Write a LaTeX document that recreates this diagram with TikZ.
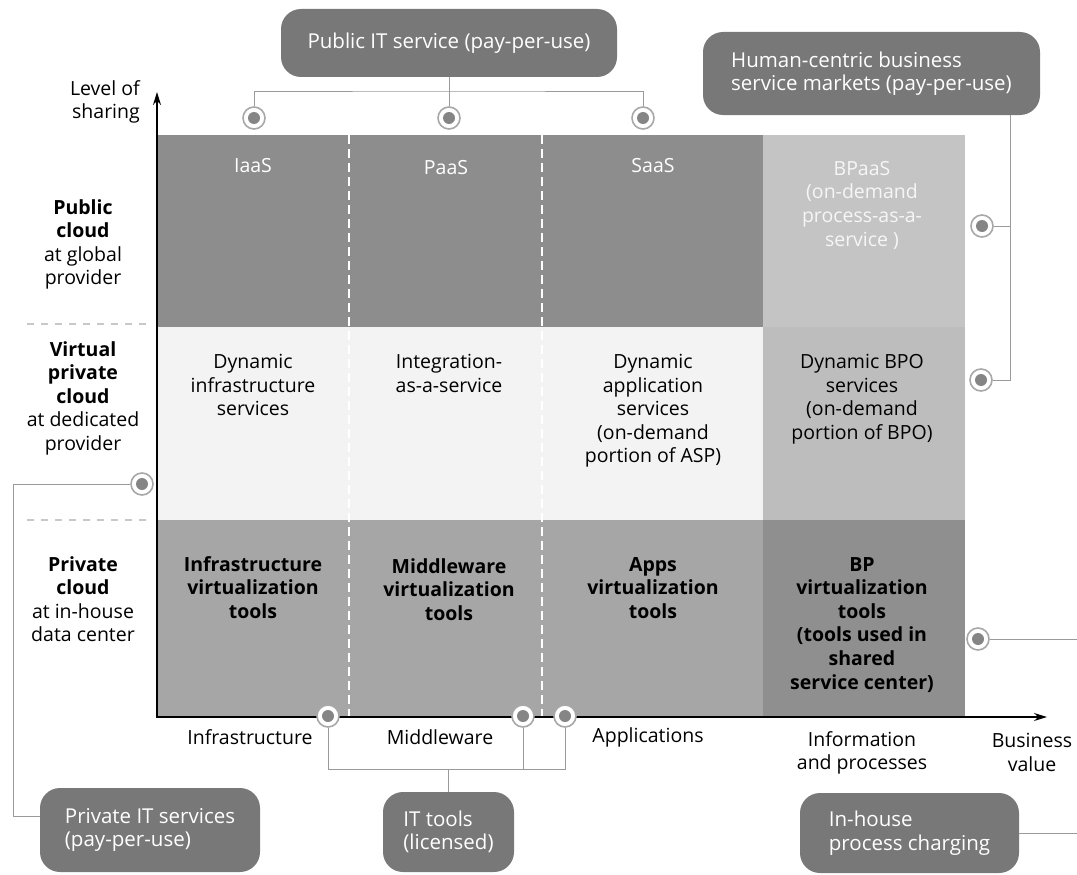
\documentclass[tikz,border=0pt]{standalone}
\usepackage{fontspec}
\setmainfont{Open Sans}
\usetikzlibrary{arrows.meta}

\definecolor{boxgray}{HTML}{787878}
\definecolor{pubcell}{HTML}{8D8D8D}
\definecolor{vpccell}{HTML}{F3F3F3}
\definecolor{privcell}{HTML}{A6A6A6}
\definecolor{bpaascell}{HTML}{C4C4C4}
\definecolor{bpocell}{HTML}{BDBDBD}
\definecolor{bpcell}{HTML}{8F8F8F}
\definecolor{linkgray}{HTML}{9A9A9A}
\definecolor{portring}{HTML}{A8A8A8}
\definecolor{portdot}{HTML}{858585}
\definecolor{rulegray}{HTML}{C8C8C8}

\newcommand{\cellsize}{\fontsize{19.5}{23.6}\selectfont}
\newcommand{\boxsize}{\fontsize{20.5}{23.6}\selectfont}

\begin{document}
\begin{tikzpicture}[x=1pt,y=-1pt,
  celltext/.style={align=center, inner sep=0pt, font=\cellsize, anchor=north},
  boldtext/.style={celltext, font=\cellsize\bfseries},
  axislabel/.style={align=center, inner sep=0pt, font=\cellsize},
  box/.style={rounded corners=20pt, fill=boxgray, text=white, font=\boxsize,
    align=left, inner sep=0pt},
  port/.style={circle, minimum size=22pt, inner sep=0pt, fill=white,
    draw=portring, line width=1.6pt,
    path picture={\fill[portdot] (path picture bounding box.center) circle (6pt);}},
  link/.style={draw=linkgray, line width=0.9pt},
  colrule/.style={draw=white, line width=1.6pt, dash pattern=on 9pt off 5pt},
  rowrule/.style={draw=rulegray, line width=1.2pt, dash pattern=on 7pt off 7pt},
  axis/.style={draw=black, line width=1.5pt, -{Stealth[length=13pt,width=8pt]}}
]
\useasboundingbox (0,0) rectangle (1077,875);

% ---- grid cells ----
\fill[pubcell]   (157,135) rectangle (763,327);
\fill[vpccell]   (157,327) rectangle (763,520);
\fill[privcell]  (157,520) rectangle (763,717);
\fill[bpaascell] (763,135) rectangle (965,327);
\fill[bpocell]   (763,327) rectangle (965,520);
\fill[bpcell]    (763,520) rectangle (965,717);

% column separators
\draw[colrule] (349,135) -- (349,717);
\draw[colrule] (542,135) -- (542,717);

% row separators beside the vertical axis
\draw[rowrule] (27,324) -- (150,324);
\draw[rowrule] (27,520) -- (150,520);

% ---- axes ----
\draw[axis] (157,718) -- (157,92);
\draw[axis] (156,717) -- (1047,717);

% ---- axis titles ----
\node[axislabel, align=right, anchor=north east] (ylab) at (140,80) {Level of\\sharing};
\node[celltext] (rowpub) at (83,199) {\textbf{Public}\\\textbf{cloud}\\at global\\provider};
\node[celltext] (rowvpc) at (83,341) {\textbf{Virtual}\\\textbf{private}\\\textbf{cloud}\\at dedicated\\provider};
\node[celltext] (rowpriv) at (83,556) {\textbf{Private}\\\textbf{cloud}\\at in-house\\data center};

% ---- row 1: public cloud ----
\node[axislabel, text=white] (iaas) at (253,166) {IaaS};
\node[axislabel, text=white] (paas) at (446,168) {PaaS};
\node[axislabel, text=white] (saas) at (653,166) {SaaS};
\node[celltext, text=white!93!gray] (bpaas) at (862,161) {BPaaS\\(on-demand\\process-as-a-\\service )};

% ---- row 2: virtual private cloud ----
\node[celltext] (dis) at (253,354) {Dynamic\\infrastructure\\services};
\node[celltext] (iaas2) at (449,354) {Integration-\\as-a-service};
\node[celltext] (das) at (653,354) {Dynamic\\application\\services\\(on-demand\\portion of ASP)};
\node[celltext] (dbpo) at (862,354) {Dynamic BPO\\services\\(on-demand\\portion of BPO)};

% ---- row 3: private cloud ----
\node[boldtext] (ivt) at (253,556) {Infrastructure\\virtualization\\tools};
\node[boldtext] (mvt) at (449,558) {Middleware\\virtualization\\tools};
\node[boldtext] (avt) at (653,557) {Apps\\virtualization\\tools};
\node[boldtext] (bpvt) at (862,557) {BP\\virtualization\\tools\\(tools used in\\shared\\service center)};

% ---- x-axis labels ----
\node[axislabel] (xinf) at (250,737) {Infrastructure};
\node[axislabel] (xmid) at (440,737) {Middleware};
\node[axislabel] (xapp) at (648,737) {Applications};
\node[celltext] (xinfo) at (862,731) {Information\\and processes};
\node[celltext] (xbiz) at (1032,733) {Business\\value};

% ---- charging boxes ----
\node[box, minimum width=336pt, minimum height=68pt] (pub) at (449,43) {Public IT service (pay-per-use)};
\node[box, minimum width=337pt, minimum height=83pt] (human) at (871.5,73.5) {Human-centric business\\service markets (pay-per-use)};
\node[box, minimum width=220pt, minimum height=84pt] (priv) at (150,830) {Private IT services\\(pay-per-use)};
\node[box, minimum width=131pt, minimum height=80pt] (tools) at (448.5,832) {IT tools\\(licensed)};
\node[box, minimum width=219pt, minimum height=80pt] (inh) at (909.5,833) {In-house\\process charging};

% ---- connection points ----
\node[port] (p1) at (254,118) {};
\node[port] (p2) at (449,118) {};
\node[port] (p3) at (643,118) {};
\node[port] (h1) at (982,226) {};
\node[port] (h2) at (981,380) {};
\node[port] (b1) at (978,639) {};
\node[port] (l1) at (142,484) {};
\node[port] (a1) at (328,716) {};
\node[port] (a2) at (523,716) {};
\node[port] (a3) at (565,716) {};

\coordinate (pubj) at (449,91);
\coordinate (hv) at (1010,380);
\coordinate (edge) at (1077,0);
\coordinate (lc) at (13,484);
\coordinate (tj) at (447,769);

% ---- connectors ----
\draw[link] (pub.south) -- (p2.north);
\draw[link] (p1.north) |- (pubj) -| (p3.north);
\draw[link] (human.south -| hv) |- (h2.east);
\draw[link] (h1.east) -- (h1.east -| hv);
\draw[link] (b1.east) -- (b1.east -| edge);
\draw[link] (inh.east) -- (inh.east -| edge);
\draw[link] (l1.west) -- (lc) |- ([yshift=14pt]priv.west);
\draw[link] (a1.south) -- (a1.south |- tj) -- (a3.south |- tj) -- (a3.south);
\draw[link] (a2.south) -- (a2.south |- tj);
\draw[link] (tools.north) -- (tools.north |- tj);
\end{tikzpicture}
\end{document}
